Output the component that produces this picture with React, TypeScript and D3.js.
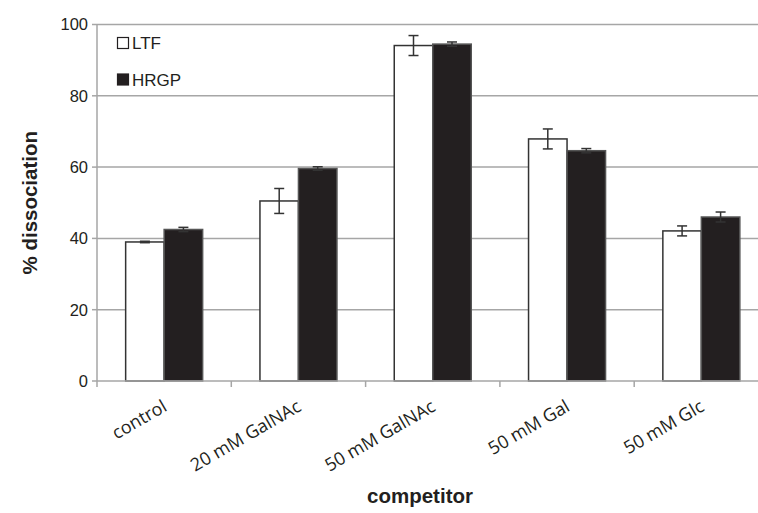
import React from "react";
import * as d3 from "d3";

const categories = ["control", "20 mM GalNAc", "50 mM GalNAc", "50 mM Gal", "50 mM Glc"];
const seriesNames = ["LTF", "HRGP"];
const ltfValues = [39.0, 50.5, 94.1, 67.9, 42.1];
const ltfErrors = [0.2, 3.5, 2.8, 2.8, 1.4];
const hrgpValues = [42.5, 59.6, 94.5, 64.6, 46.0];
const hrgpErrors = [0.6, 0.5, 0.6, 0.6, 1.4];
const yTicks = [0, 20, 40, 60, 80, 100];

const W = 758;
const H = 513;
const left = 97;
const right = 768.5;
const top = 24.5;
const bottom = 381;

export default function App() {
  const x = d3.scaleBand<string>().domain(categories).range([left, right]).paddingInner(0).paddingOuter(0);
  const y = d3.scaleLinear().domain([0, 100]).range([bottom, top]);
  const barW = 38.5;
  const series = [
    { name: seriesNames[0], values: ltfValues, errors: ltfErrors, fill: "#ffffff", stroke: "#333333" },
    { name: seriesNames[1], values: hrgpValues, errors: hrgpErrors, fill: "#231f20", stroke: "#555555" },
  ];
  const font = "'Liberation Sans', Arial, Helvetica, sans-serif";
  return (
    <svg width={W} height={H} style={{ position: "absolute", left: 0, top: 0, background: "#fff" }}>
      {yTicks.filter((t) => t > 0).map((t) => (
        <line key={t} x1={left} x2={W} y1={y(t)} y2={y(t)} stroke="#a6a6a6" strokeWidth={1.5} />
      ))}
      {categories.map((c, i) => {
        const cx = x(c)! + x.bandwidth() / 2;
        return (
          <g key={c}>
            {series.map((s, j) => {
              const bx = cx - barW + j * barW;
              const v = s.values[i];
              const e = s.errors[i];
              const mx = bx + barW / 2;
              return (
                <g key={s.name}>
                  <rect x={bx} y={y(v)} width={barW} height={y(0) - y(v)} fill={s.fill} stroke={s.stroke} strokeWidth={1.5} />
                  <line x1={mx} x2={mx} y1={y(v + e)} y2={y(v - e)} stroke="#333" strokeWidth={1.5} />
                  <line x1={mx - 5} x2={mx + 5} y1={y(v + e)} y2={y(v + e)} stroke="#333" strokeWidth={1.5} />
                  <line x1={mx - 5} x2={mx + 5} y1={y(v - e)} y2={y(v - e)} stroke="#333" strokeWidth={1.5} />
                </g>
              );
            })}
          </g>
        );
      })}
      <line x1={left} x2={W} y1={bottom} y2={bottom} stroke="#a6a6a6" strokeWidth={1.5} />
      {[...categories.map((c) => x(c)!), right].map((tx, i) => (
        <line key={i} x1={tx} x2={tx} y1={bottom} y2={bottom + 6} stroke="#a6a6a6" strokeWidth={1.5} />
      ))}
      {categories.map((c) => {
        const cx = x(c)! + x.bandwidth() / 2;
        return (
          <text
            key={c}
            transform={`translate(${cx + 4},${bottom + 29}) rotate(-30)`}
            textAnchor="end"
            fontFamily="'Open Sans', sans-serif"
            fontSize={18}
            fill="#231f20"
          >
            {c}
          </text>
        );
      })}
      <line x1={left} x2={left} y1={top} y2={bottom} stroke="#a6a6a6" strokeWidth={1.5} />
      {yTicks.map((t) => (
        <g key={t}>
          <line x1={left - 5} x2={left} y1={y(t)} y2={y(t)} stroke="#a6a6a6" strokeWidth={1.5} />
          <text x={left - 9} y={y(t)} dy="0.36em" textAnchor="end" fontFamily={font} fontSize={16.5} fill="#231f20">
            {t}
          </text>
        </g>
      ))}
      <text
        transform={`translate(37,${(top + bottom) / 2}) rotate(-90)`}
        textAnchor="middle"
        fontFamily={font}
        fontWeight="bold"
        fontSize={20.5}
        fill="#231f20"
      >
        % dissociation
      </text>
      <text x={420} y={503} textAnchor="middle" fontFamily={font} fontWeight="bold" fontSize={20.5} fill="#231f20">
        competitor
      </text>
      {series.map((s, j) => (
        <g key={s.name}>
          <rect x={117.5} y={37.5 + j * 36.5} width={11} height={11} fill={s.fill} stroke="#231f20" strokeWidth={1.2} />
          <text x={132} y={49 + j * 36.5} fontFamily={font} fontSize={17} fill="#231f20">
            {s.name}
          </text>
        </g>
      ))}
    </svg>
  );
}
